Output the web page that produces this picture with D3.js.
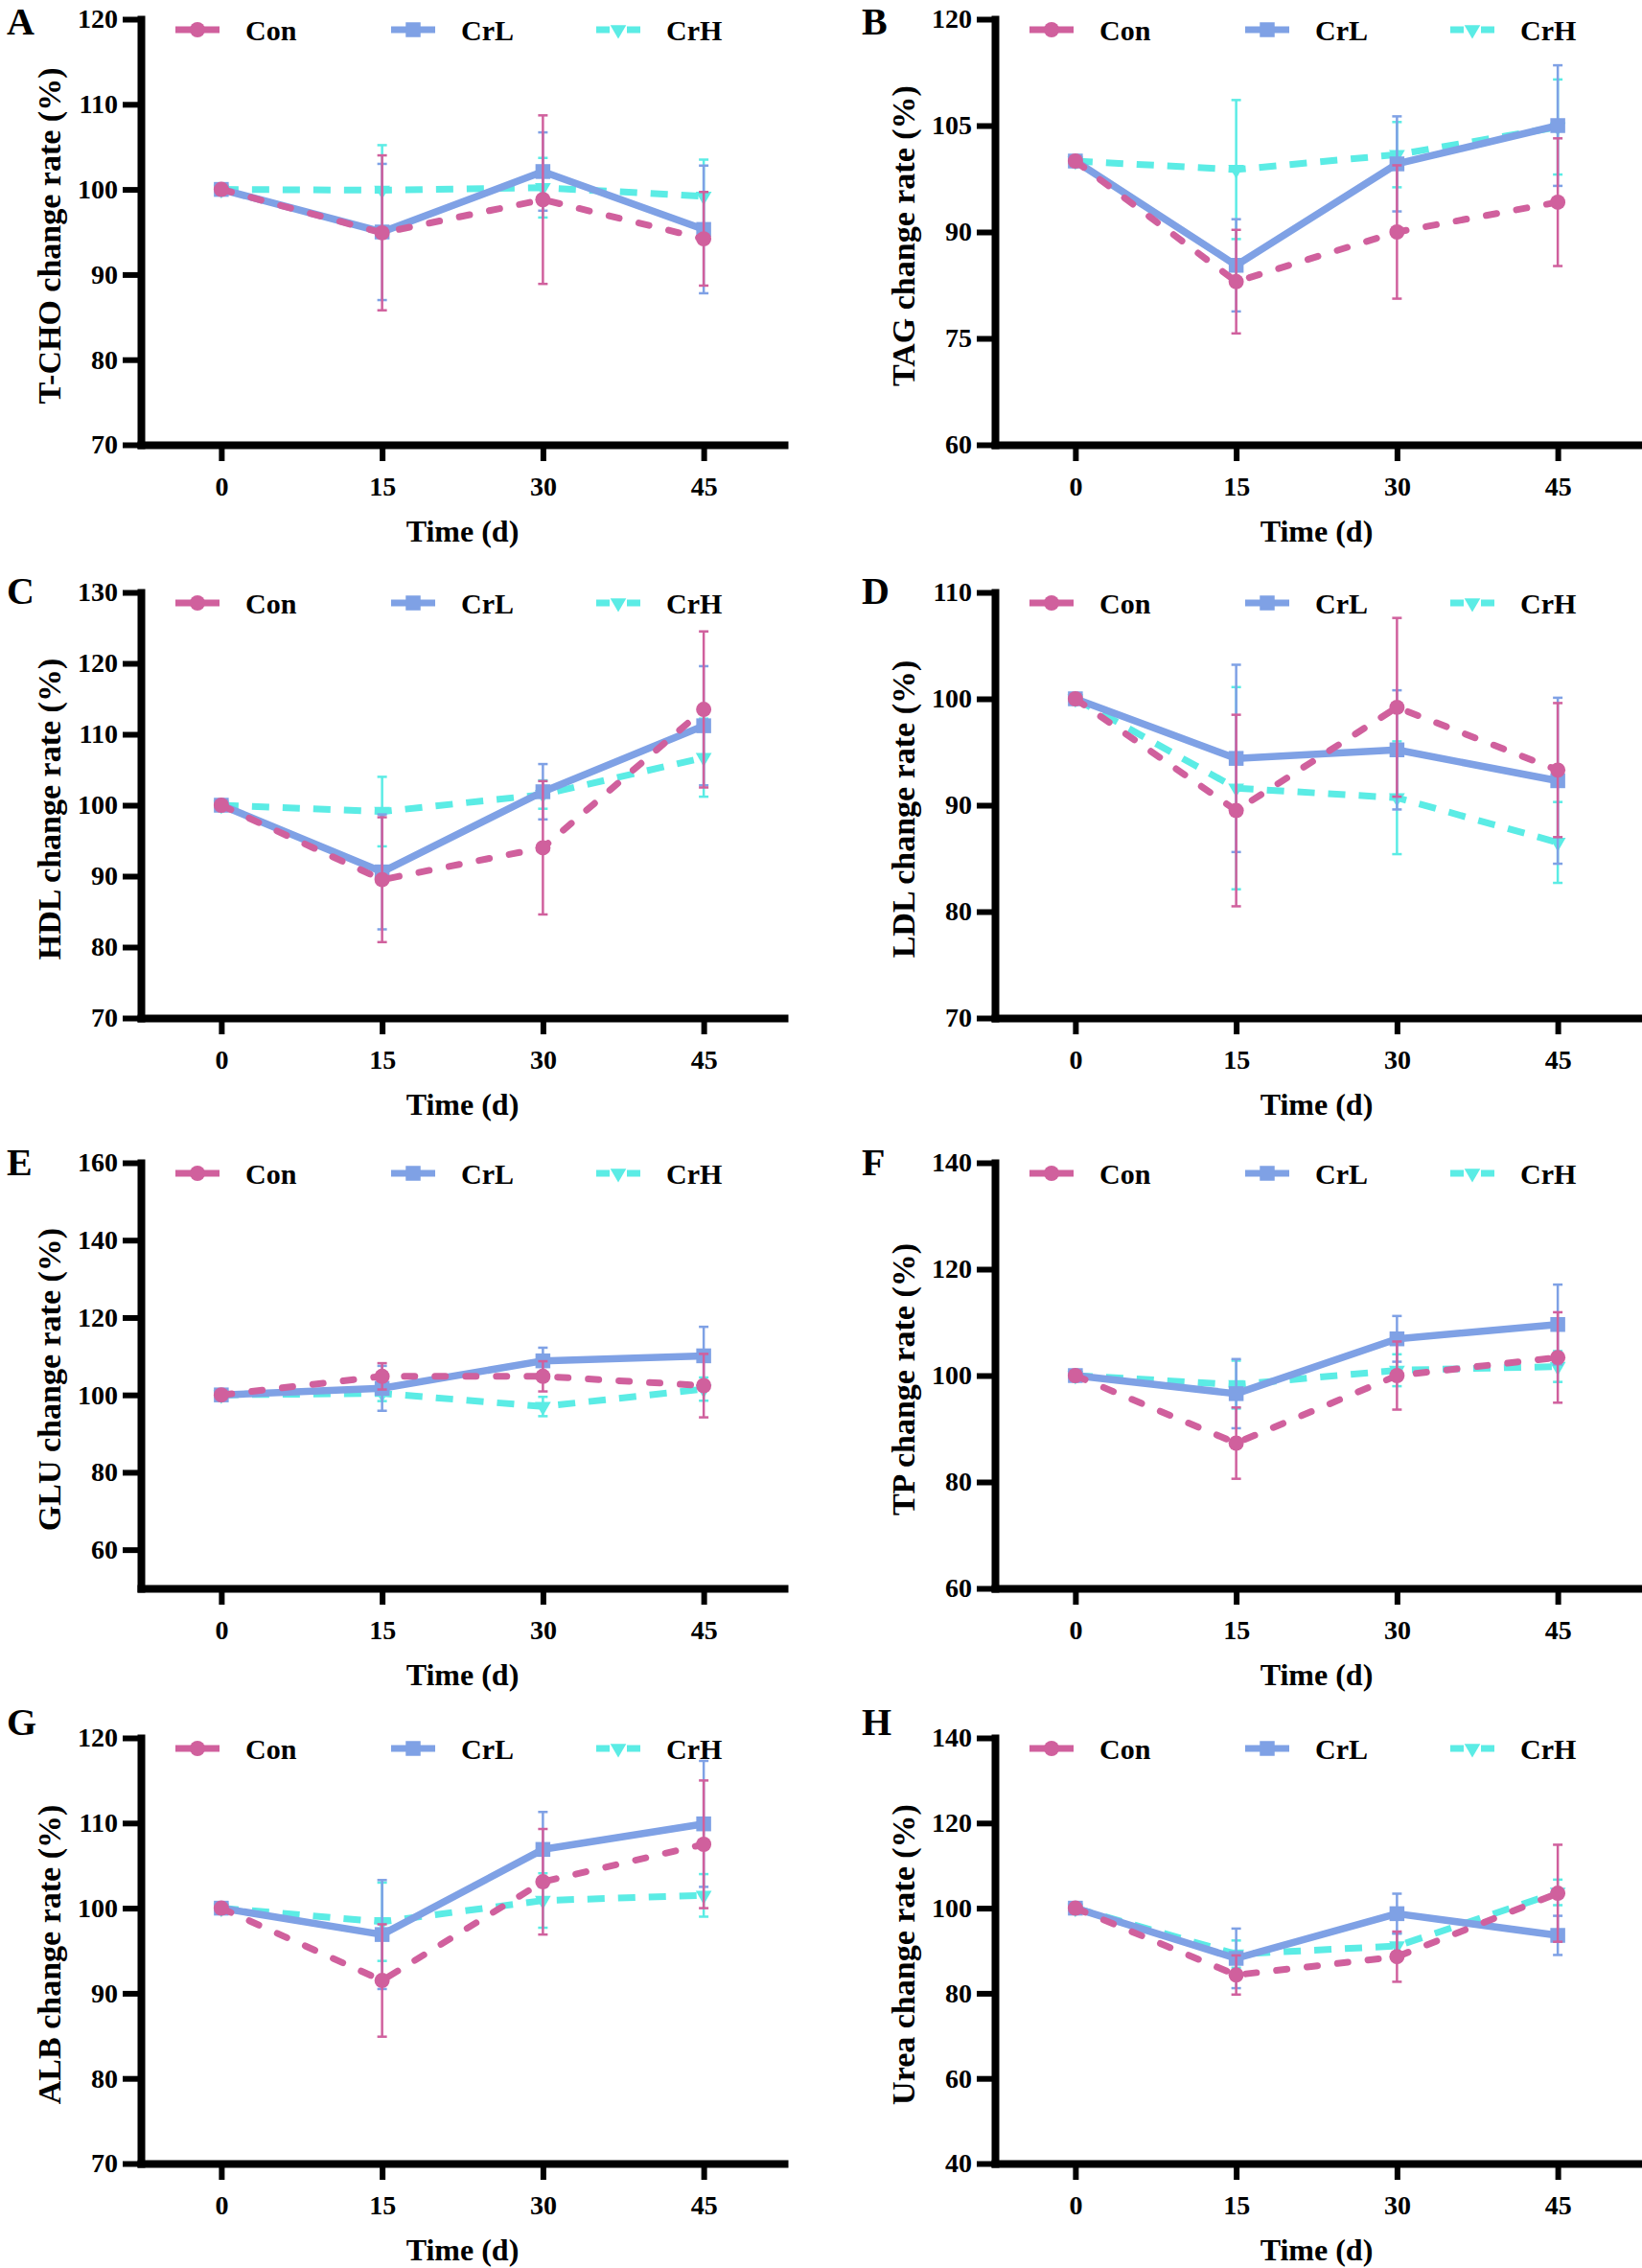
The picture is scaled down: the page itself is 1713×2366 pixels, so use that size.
<!DOCTYPE html>
<html>
<head>
<meta charset="utf-8">
<script src="https://cdn.jsdelivr.net/npm/d3@7"></script>
<style>
  html, body { margin: 0; padding: 0; background: #fff; }
  svg { display: block; }
</style>
</head>
<body>
<script>
// ---------------- DATA ----------------
const days = [0, 15, 30, 45];
const xTickLabels = ["0", "15", "30", "45"];
const groups = ["Con", "CrL", "CrH"];
const groupColors = ["#D0609D", "#7FA1E5", "#5BECE5"];
const panelLetters = ["A", "B", "C", "D", "E", "F", "G", "H"];
const yTitles = [
  "T-CHO change rate (%)", "TAG change rate (%)",
  "HDL change rate (%)", "LDL change rate (%)",
  "GLU change rate (%)", "TP change rate (%)",
  "ALB change rate (%)", "Urea change rate (%)"
];
const xTitle = "Time (d)";
const yDomains = [[70, 120], [60, 120], [70, 130], [70, 110], [50, 160], [60, 140], [70, 120], [40, 140]];
const yTickValues = [
  [70, 80, 90, 100, 110, 120],
  [60, 75, 90, 105, 120],
  [70, 80, 90, 100, 110, 120, 130],
  [70, 80, 90, 100, 110],
  [60, 80, 100, 120, 140, 160],
  [60, 80, 100, 120, 140],
  [70, 80, 90, 100, 110, 120],
  [40, 60, 80, 100, 120, 140]
];

// A: T-CHO
const tchoCon = [100, 94.9, 98.8, 94.2],  tchoConErr = [0, 9.1, 9.9, 5.5];
const tchoCrL = [100, 95.0, 102.1, 95.3], tchoCrLErr = [0, 8.0, 4.6, 7.5];
const tchoCrH = [100, 99.9, 100.2, 99.2], tchoCrHErr = [0, 5.3, 3.5, 4.3];
// B: TAG
const tagCon = [100, 83.0, 90.0, 94.2],   tagConErr = [0, 7.3, 9.4, 9.0];
const tagCrL = [100, 85.3, 99.6, 105.0],  tagCrLErr = [0, 6.5, 6.7, 8.5];
const tagCrH = [100, 98.8, 100.9, 104.8], tagCrHErr = [0, 9.8, 4.6, 6.7];
// C: HDL
const hdlCon = [100, 89.5, 94.0, 113.5],  hdlConErr = [0, 8.8, 9.4, 11.0];
const hdlCrL = [100, 90.6, 101.9, 111.2], hdlCrLErr = [0, 8.1, 3.9, 8.4];
const hdlCrH = [100, 99.1, 101.5, 106.7], hdlCrHErr = [0, 4.9, 2.0, 5.5];
// D: LDL
const ldlCon = [100, 89.5, 99.2, 93.3],   ldlConErr = [0, 9.0, 8.4, 6.3];
const ldlCrL = [100, 94.4, 95.2, 92.3],   ldlCrLErr = [0, 8.8, 5.6, 7.8];
const ldlCrH = [100, 91.6, 90.7, 86.5],   ldlCrHErr = [0, 9.5, 5.3, 3.8];
// E: GLU
const gluCon = [100, 104.8, 104.8, 102.4], gluConErr = [0, 3.4, 3.9, 8.2];
const gluCrL = [100, 101.7, 108.8, 110.1], gluCrLErr = [0, 5.8, 3.4, 7.5];
const gluCrH = [100, 100.4, 97.0, 101.5],  gluCrHErr = [0, 2.0, 2.5, 3.0];
// F: TP
const tpCon = [100, 87.3, 100.0, 103.4],  tpConErr = [0, 6.7, 6.4, 8.5];
const tpCrL = [100, 96.6, 106.9, 109.6],  tpCrLErr = [0, 6.5, 4.3, 7.5];
const tpCrH = [100, 98.3, 101.0, 101.7],  tpCrHErr = [0, 4.5, 3.0, 2.9];
// G: ALB
const albCon = [100, 91.5, 103.1, 107.5], albConErr = [0, 6.6, 6.2, 7.5];
const albCrL = [100, 96.9, 106.9, 109.9], albCrLErr = [0, 6.4, 4.4, 7.4];
const albCrH = [100, 98.4, 100.9, 101.5], albCrHErr = [0, 4.6, 3.2, 2.5];
// H: Urea
const ureaCon = [100, 84.3, 88.6, 103.5], ureaConErr = [0, 4.6, 5.9, 11.4];
const ureaCrL = [100, 88.2, 98.7, 93.6],  ureaCrLErr = [0, 7.0, 4.7, 4.6];
const ureaCrH = [100, 89.2, 91.1, 103.7], ureaCrHErr = [0, 3.2, 3.0, 3.0];

const panelMeans = [
  [tchoCon, tchoCrL, tchoCrH], [tagCon, tagCrL, tagCrH],
  [hdlCon, hdlCrL, hdlCrH], [ldlCon, ldlCrL, ldlCrH],
  [gluCon, gluCrL, gluCrH], [tpCon, tpCrL, tpCrH],
  [albCon, albCrL, albCrH], [ureaCon, ureaCrL, ureaCrH]
];
const panelErrs = [
  [tchoConErr, tchoCrLErr, tchoCrHErr], [tagConErr, tagCrLErr, tagCrHErr],
  [hdlConErr, hdlCrLErr, hdlCrHErr], [ldlConErr, ldlCrLErr, ldlCrHErr],
  [gluConErr, gluCrLErr, gluCrHErr], [tpConErr, tpCrLErr, tpCrHErr],
  [albConErr, albCrLErr, albCrHErr], [ureaConErr, ureaCrLErr, ureaCrHErr]
];

// ---------------- LAYOUT ----------------
const W = 1713, H = 2366;
const colAxisX = [147, 1038];
const rowTop = [20, 618, 1213, 1813];
const letterX = [7, 899];
const letterBaseline = [36, 630, 1226, 1810];
const plotH = 444, axisW = 671;
const xDomain = [-7.5, 52.5];
const FONT = "'Liberation Serif', 'Times New Roman', Times, serif";
const lineDash = ["11,21", null, "18,14"];
const lineCap = ["round", "butt", "butt"];
const lineWidth = [7, 7.5, 7];
const legendDash = [null, null, "14,18"];
const legendOffsets = [0, 225, 439];
const drawOrder = [2, 1, 0];

const symbolTypes = [d3.symbolCircle, d3.symbolSquare, d3.symbolTriangle];
const symbolSizes = [200, 240, 120];
const symbolRotate = [0, 0, 180];

const svg = d3.select("body").append("svg")
  .attr("width", W).attr("height", H)
  .attr("viewBox", `0 0 ${W} ${H}`);
svg.append("rect").attr("width", W).attr("height", H).attr("fill", "#fff");

panelLetters.forEach((letter, i) => {
  const col = i % 2, row = Math.floor(i / 2);
  const ax = colAxisX[col], top = rowTop[row];

  svg.append("text")
    .attr("x", letterX[col]).attr("y", letterBaseline[row])
    .attr("font-family", FONT).attr("font-weight", "bold")
    .attr("font-size", 40).attr("fill", "#000")
    .text(letter);

  const g = svg.append("g").attr("transform", `translate(${ax},${top})`);
  const x = d3.scaleLinear().domain(xDomain).range([0, axisW]);
  const y = d3.scaleLinear().domain(yDomains[i]).range([plotH, 0]);

  // axes
  const yAxisG = g.append("g")
    .call(d3.axisLeft(y).tickValues(yTickValues[i]).tickSize(19).tickSizeOuter(0).tickPadding(5));
  const xAxisG = g.append("g").attr("transform", `translate(0,${plotH})`)
    .call(d3.axisBottom(x).tickValues(days).tickFormat((d, k) => xTickLabels[k])
      .tickSize(17).tickSizeOuter(0).tickPadding(16));
  [yAxisG, xAxisG].forEach(a => {
    a.select("path.domain").attr("stroke", "#000").attr("stroke-width", 8).attr("stroke-linecap", "square");
    a.selectAll(".tick line").attr("stroke", "#000").attr("stroke-width", 6);
    a.selectAll(".tick text").attr("font-family", FONT).attr("font-weight", "bold")
      .attr("font-size", 28).attr("fill", "#000");
    a.attr("font-family", null).attr("font-size", null);
  });

  // axis titles
  g.append("text")
    .attr("x", axisW / 2).attr("y", plotH + 101)
    .attr("text-anchor", "middle")
    .attr("font-family", FONT).attr("font-weight", "bold").attr("font-size", 32).attr("fill", "#000")
    .text(xTitle);
  g.append("text")
    .attr("transform", `translate(${-96},${plotH / 2 + 4}) rotate(-90)`)
    .attr("text-anchor", "middle").attr("dominant-baseline", "central")
    .attr("font-family", FONT).attr("font-weight", "bold").attr("font-size", 34).attr("fill", "#000")
    .text(yTitles[i]);

  // series
  const line = d3.line().x(d => x(d.day)).y(d => y(d.v));
  drawOrder.forEach(k => {
    const pts = days.map((d, j) => ({ day: d, v: panelMeans[i][k][j], e: panelErrs[i][k][j] }));
    const color = groupColors[k];
    const sg = g.append("g");
    sg.append("path").datum(pts)
      .attr("d", line).attr("fill", "none")
      .attr("stroke", color).attr("stroke-width", lineWidth[k])
      .attr("stroke-linecap", lineCap[k]).attr("stroke-linejoin", "round")
      .attr("stroke-dasharray", lineDash[k]);
    const eb = sg.selectAll("g.eb").data(pts.filter(p => p.e > 0)).enter().append("g");
    eb.append("line")
      .attr("x1", p => x(p.day)).attr("x2", p => x(p.day))
      .attr("y1", p => y(p.v - p.e)).attr("y2", p => y(p.v + p.e))
      .attr("stroke", color).attr("stroke-width", 2.5);
    [-1, 1].forEach(s => {
      eb.append("line")
        .attr("x1", p => x(p.day) - 5).attr("x2", p => x(p.day) + 5)
        .attr("y1", p => y(p.v + s * p.e)).attr("y2", p => y(p.v + s * p.e))
        .attr("stroke", color).attr("stroke-width", 2.5);
    });
    sg.selectAll("path.mk").data(pts).enter().append("path")
      .attr("d", d3.symbol(symbolTypes[k], symbolSizes[k]))
      .attr("transform", p => `translate(${x(p.day)},${y(p.v)}) rotate(${symbolRotate[k]})`)
      .attr("fill", color);
  });

  // legend
  groups.forEach((name, k) => {
    const lx = 36 + legendOffsets[k], ly = 11;
    const color = groupColors[k];
    g.append("line")
      .attr("x1", lx).attr("x2", lx + 46).attr("y1", ly).attr("y2", ly)
      .attr("stroke", color).attr("stroke-width", 7)
      .attr("stroke-dasharray", legendDash[k]);
    g.append("path")
      .attr("d", d3.symbol(symbolTypes[k], symbolSizes[k]))
      .attr("transform", `translate(${lx + 23},${ly}) rotate(${symbolRotate[k]})`)
      .attr("fill", color);
    g.append("text")
      .attr("x", lx + 73).attr("y", ly)
      .attr("dominant-baseline", "central")
      .attr("font-family", FONT).attr("font-weight", "bold").attr("font-size", 30).attr("fill", "#000")
      .text(name);
  });
});
</script>
</body>
</html>
